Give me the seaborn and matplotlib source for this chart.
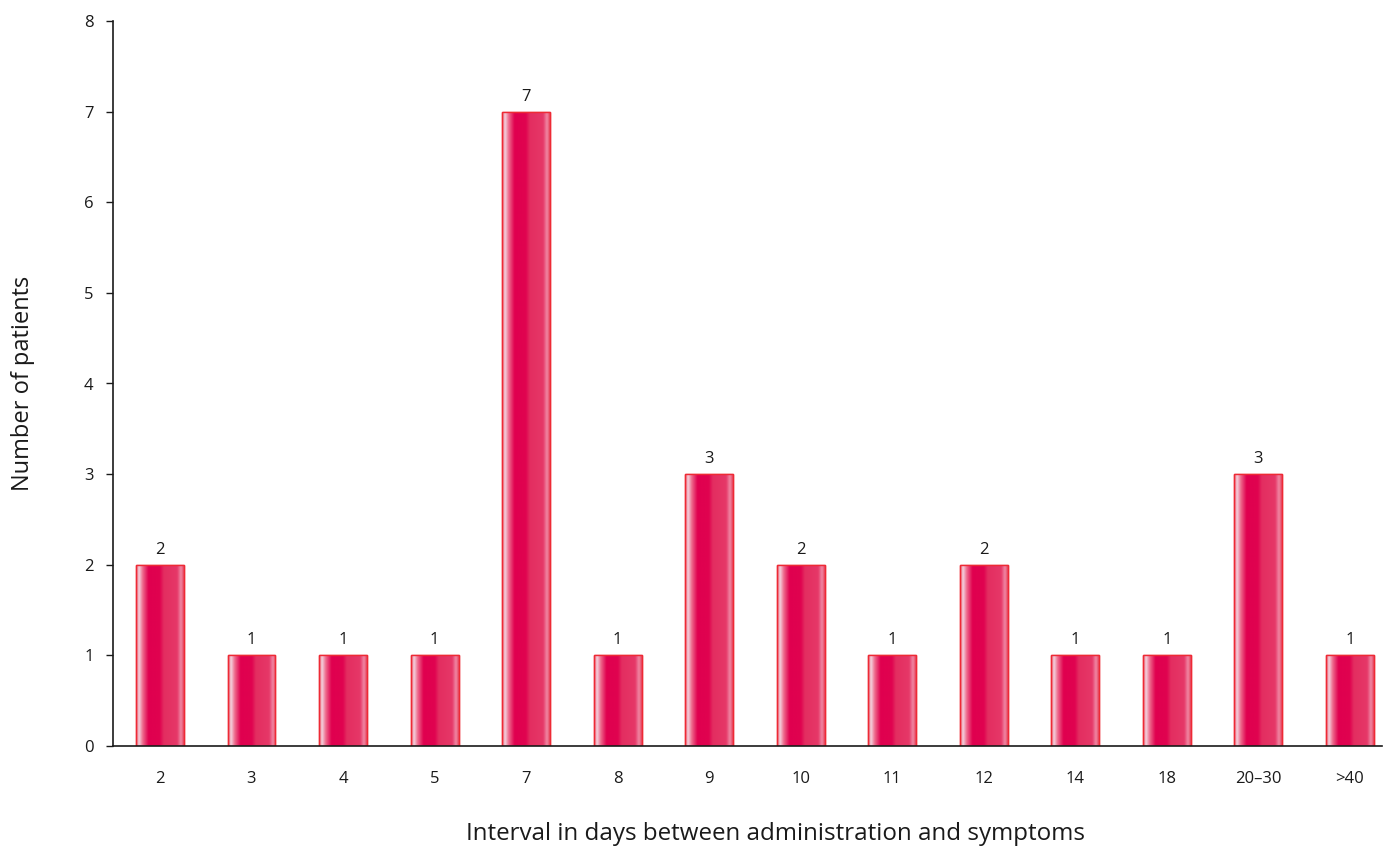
import matplotlib
matplotlib.use("Agg")
import matplotlib.pyplot as plt
import seaborn as sns
import numpy as np
import pandas as pd
from matplotlib.colors import LinearSegmentedColormap

categories = ["2", "3", "4", "5", "7", "8", "9", "10", "11", "12", "14", "18", "20–30", ">40"]
patients = [2, 1, 1, 1, 7, 1, 3, 2, 1, 2, 1, 1, 3, 1]

sns.set_theme(style="white")
plt.rcParams['font.family'] = ['Open Sans', 'DejaVu Sans']

fig = plt.figure(figsize=(13.87, 8.47), dpi=100)
ax = fig.add_axes([113/1387, 1-746/847, (1382-113)/1387, (746-21)/847])

df = pd.DataFrame({"cat": categories, "val": patients})
sns.barplot(data=df, x="cat", y="val", ax=ax, width=0.524, color="#e0004f",
            edgecolor="#ee2a35", linewidth=1.0, saturation=1)

# gradient fill clipped to each bar
grad_colors = [(0.0, "#e8405a"), (0.06, "#f4d8e2"), (0.14, "#ee6a8c"),
               (0.26, "#e0004f"), (0.5, "#e00350"), (0.58, "#e32d60"),
               (0.86, "#e63868"), (0.94, "#f08aa6"), (1.0, "#e8405a")]
cmap = LinearSegmentedColormap.from_list("bar", grad_colors)
grad = np.linspace(0, 1, 256).reshape(1, -1)
for p in ax.patches:
    x0, y0 = p.get_x(), p.get_y()
    w, h = p.get_width(), p.get_height()
    im = ax.imshow(grad, cmap=cmap, aspect="auto", extent=[x0, x0 + w, y0, y0 + h],
                   zorder=p.get_zorder() + 0.1, interpolation="bicubic")
    im.set_clip_path(p)
    border = plt.Rectangle((x0, y0), w, h, fill=False, edgecolor="#ee2a35",
                           linewidth=1.0, zorder=p.get_zorder() + 0.2)
    ax.add_patch(border)

ax.bar_label(ax.containers[0], labels=[str(v) for v in patients], padding=5,
             fontsize=12, color="#1a1a1a")

ax.set_xlim(-0.513, 13.35)
ax.set_ylim(0, 8)
ax.set_yticks(range(0, 9))
ax.set_yticklabels([str(i) for i in range(0, 9)])

for s in ["top", "right"]:
    ax.spines[s].set_visible(False)
for s in ["left", "bottom"]:
    ax.spines[s].set_visible(True)
    ax.spines[s].set_color("#1a1a1a")
    ax.spines[s].set_linewidth(1.2)

ax.tick_params(axis="y", which="both", left=True, length=5, width=1, color="#1a1a1a",
               labelsize=12, labelcolor="#1a1a1a", pad=9)
ax.tick_params(axis="x", bottom=False, labelsize=12, labelcolor="#1a1a1a", pad=12)

ax.set_xlabel("Interval in days between administration and symptoms", fontsize=17.4,
              color="#1a1a1a")
ax.xaxis.set_label_coords(0.5217, -0.121)
ax.xaxis.label.set_va("center")
ax.set_ylabel("Number of patients", fontsize=17, color="#1a1a1a", labelpad=35)
ax.grid(False)

fig.savefig("out.png", dpi=100)
